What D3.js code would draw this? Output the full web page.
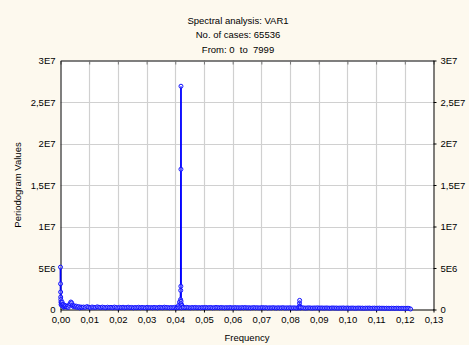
<!DOCTYPE html>
<html><head><meta charset="utf-8">
<script src="https://cdn.jsdelivr.net/npm/d3@7"></script>
<style>
html,body{margin:0;padding:0;background:#fdf9ee;}
svg{display:block;font-family:"Liberation Sans",Arial,sans-serif;}
</style></head>
<body>
<svg id="chart" width="469" height="345"></svg>
<script>
// ---- data ----
const titleLines = ["Spectral analysis: VAR1", "No. of cases: 65536", "From: 0  to  7999"];
const xLabel = "Frequency";
const yLabel = "Periodogram Values";
const xTicks = [0,0.01,0.02,0.03,0.04,0.05,0.06,0.07,0.08,0.09,0.10,0.11,0.12,0.13];
const xTickLabels = ["0,00","0,01","0,02","0,03","0,04","0,05","0,06","0,07","0,08","0,09","0,10","0,11","0,12","0,13"];
const yTicks = [0,5e6,1e7,1.5e7,2e7,2.5e7,3e7];
const yTickLabels = ["0","5E6","1E7","1,5E7","2E7","2,5E7","3E7"];

// low-frequency part (frequency, periodogram value)
const lowFreq = [0,0.00002,0.00005,0.00008,0.00011,0.00015,0.0002,0.0003,0.0004,0.00055,0.0007,0.00085,0.001,0.0012,0.0014,0.0016,0.0018,0.0021,0.0024,0.0027,0.003,0.0033,0.0036,0.0039,0.0042,0.0045,0.0048,0.0051,0.0055,0.0059,0.0063,0.0067,0.0071,0.0075];
const lowVals = [5.1e6,3.1e6,2.1e6,1.5e6,1.2e6,0.9e6,0.6e6,0.8e6,0.5e6,0.9e6,0.6e6,0.4e6,0.6e6,0.3e6,0.5e6,0.35e6,0.45e6,0.3e6,0.4e6,0.25e6,0.5e6,0.7e6,0.9e6,0.8e6,0.5e6,0.35e6,0.45e6,0.3e6,0.4e6,0.25e6,0.35e6,0.2e6,0.3e6,0.25e6];

// main peak near 0.042
const peakFreq = [0.0408,0.0412,0.0415,0.04185,0.0419,0.04195,0.04198,0.04199,0.04201,0.04205,0.0423,0.0427];
const peakVals = [0.3e6,0.5e6,0.9e6,1.2e6,2.3e6,2.8e6,1.69e7,2.69e7,1.0e6,0.7e6,0.5e6,0.3e6];

// secondary peak near 0.083
const peak2Freq = [0.0831,0.0833,0.08335,0.0834,0.0836];
const peak2Vals = [0.3e6,0.75e6,1.1e6,0.4e6,0.25e6];

// background band: frequencies from 0.0080 in steps of 0.0006 up to 0.1220, values in units of 1E5
const baseStart = 0.008, baseStep = 0.0006;
const baseValsE5 = [
3,2.5,3.5,2.8,2.2,3,2.6,2.4,3.2,2.7,
2.3,2.9,2.5,2.1,2.8,2.4,2.6,2.2,2.9,2.5,
2.0,2.6,2.3,2.7,2.1,2.4,2.8,2.2,2.5,2.0,
2.4,2.2,2.7,2.1,2.5,2.3,2.0,2.6,2.2,2.4,
2.1,2.5,2.3,2.0,2.6,2.4,2.2,2.8,2.5,2.3,
2.1,2.4,2.2,2.6,2.0,2.3,2.5,2.1,2.4,2.2,
2.6,2.3,2.0,2.4,2.2,2.5,2.1,2.3,2.0,2.4,
2.2,2.5,2.1,2.3,2.4,2.0,2.2,2.5,2.3,2.1,
2.4,2.2,2.0,2.3,2.1,2.4,2.2,2.0,2.3,2.1,
2.2,2.0,2.3,2.1,2.4,2.0,2.2,1.9,2.1,2.3,
2.0,2.2,1.9,2.1,2.3,2.0,2.2,1.8,2.1,1.9,
2.2,2.0,1.8,2.1,1.9,2.0,2.2,1.8,2.0,1.9,
2.1,1.8,2.0,1.9,1.7,2.0,1.8,2.1,1.9,1.7,
1.9,2.0,1.8,1.7,1.9,1.8,2.0,1.7,1.9,1.8,
1.7,1.9,1.8,1.6,1.8,1.9,1.7,1.8,1.6,1.8,
1.7,1.9,1.6,1.8,1.7,1.6,1.8,1.7,1.5,1.7,
1.8,1.6,1.7,1.5,1.7,1.6,1.8,1.5,1.6,1.7,
1.5,1.6,1.7,1.5,1.6,1.4,1.6,1.5,1.4,1.6,
1.5,1.4,1.6,1.5,1.3,1.5,1.4,1.3,1.5,1.4,
0.6];

// ---- build series ----
let pts = [];
lowFreq.forEach((f,i)=>pts.push({f, v: lowVals[i]}));
peakFreq.forEach((f,i)=>pts.push({f, v: peakVals[i]}));
peak2Freq.forEach((f,i)=>pts.push({f, v: peak2Vals[i]}));
baseValsE5.forEach((v,i)=>pts.push({f: baseStart + i*baseStep, v: v*1e5}));
pts.sort((a,b)=>a.f-b.f);

// ---- drawing ----
const svg = d3.select("#chart");
const L = 60.5, R = 433.5, T = 60.5, B = 309.5;
const x = d3.scaleLinear().domain([0,0.13]).range([L,R]);
const y = d3.scaleLinear().domain([0,3e7]).range([B,T]);

svg.append("rect").attr("x",L).attr("y",T).attr("width",R-L).attr("height",B-T).attr("fill","#ffffff");

// grid
svg.append("g").selectAll("line").data(xTicks.slice(1,-1)).join("line")
  .attr("x1",d=>Math.round(x(d))+0.5).attr("x2",d=>Math.round(x(d))+0.5)
  .attr("y1",T).attr("y2",B).attr("stroke","#d0d0d0").attr("stroke-width",1.2);
svg.append("g").selectAll("line").data(yTicks.slice(1,-1)).join("line")
  .attr("y1",d=>Math.round(y(d))+0.5).attr("y2",d=>Math.round(y(d))+0.5)
  .attr("x1",L).attr("x2",R).attr("stroke","#d0d0d0").attr("stroke-width",1.2);

// axes
const fmtX = d => xTickLabels[xTicks.indexOf(d)];
const fmtY = d => yTickLabels[yTicks.indexOf(d)];
const styleAxis = g => {
  g.select(".domain").attr("stroke","#000");
  g.selectAll(".tick line").attr("stroke","#000");
  g.selectAll("text").attr("fill","#000").style("font-size","9.5px").style("font-family","'Liberation Sans',Arial,sans-serif");
};
svg.append("g").attr("transform",`translate(0,${B})`)
  .call(d3.axisBottom(x).tickValues(xTicks).tickFormat(fmtX).tickSize(3).tickPadding(4).tickSizeOuter(0))
  .call(styleAxis);
svg.append("g").attr("transform",`translate(0,${T})`)
  .call(d3.axisTop(x).tickValues(xTicks).tickFormat("").tickSize(-4).tickSizeOuter(0))
  .call(styleAxis).call(g=>g.selectAll(".tick line").attr("stroke","#777"));
svg.append("g").attr("transform",`translate(${L},0)`)
  .call(d3.axisLeft(y).tickValues(yTicks).tickFormat(fmtY).tickSize(0).tickPadding(5).tickSizeOuter(0))
  .call(styleAxis);
svg.append("g").attr("transform",`translate(${R},0)`)
  .call(d3.axisRight(y).tickValues(yTicks).tickFormat(fmtY).tickSize(3).tickPadding(4).tickSizeOuter(0))
  .call(styleAxis);

// series
const line = d3.line().x(d=>x(d.f)).y(d=>y(d.v));
svg.append("path").datum(pts).attr("d",line).attr("fill","none")
  .attr("stroke","#0000ff").attr("stroke-width",1.8);
svg.append("g").selectAll("circle").data(pts).join("circle")
  .attr("cx",d=>x(d.f)).attr("cy",d=>y(d.v)).attr("r",2)
  .attr("fill","#ffffff").attr("fill-opacity",0.35).attr("stroke","#1010ff").attr("stroke-width",1);

// titles
svg.append("g").selectAll("text").data(titleLines).join("text")
  .attr("x",238).attr("y",(d,i)=>24+i*14.3).attr("text-anchor","middle")
  .style("font-size","9.5px").style("white-space","pre").attr("fill","#000").text(d=>d);
svg.append("text").attr("x",(L+R)/2).attr("y",341).attr("text-anchor","middle")
  .style("font-size","9.5px").text(xLabel);
svg.append("text").attr("transform",`translate(21,${(T+B)/2}) rotate(-90)`).attr("text-anchor","middle")
  .style("font-size","9.5px").text(yLabel);
</script>
</body></html>
